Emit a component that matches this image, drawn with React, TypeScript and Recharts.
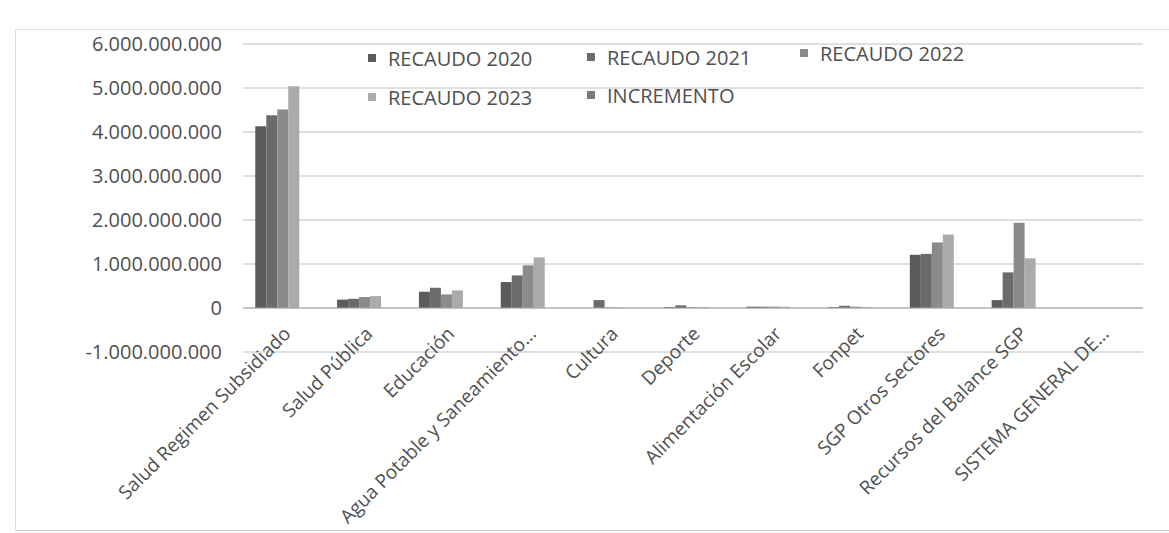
import React from 'react';
import { BarChart, Bar, XAxis, YAxis, CartesianGrid, ReferenceLine } from 'recharts';

const categories = [
  'Salud Regimen Subsidiado',
  'Salud Pública',
  'Educación',
  'Agua Potable y Saneamiento...',
  'Cultura',
  'Deporte',
  'Alimentación Escolar',
  'Fonpet',
  'SGP Otros Sectores',
  'Recursos del Balance SGP',
  'SISTEMA GENERAL DE...',
];

const recaudo2020 = [4130000000, 190000000, 370000000, 590000000, 0, 20000000, 30000000, 20000000, 1210000000, 180000000, 0];
const recaudo2021 = [4380000000, 210000000, 460000000, 740000000, 180000000, 60000000, 30000000, 50000000, 1230000000, 810000000, 0];
const recaudo2022 = [4510000000, 250000000, 310000000, 970000000, 10000000, 20000000, 30000000, 30000000, 1490000000, 1940000000, 0];
const recaudo2023 = [5040000000, 270000000, 400000000, 1150000000, 10000000, 20000000, 30000000, 20000000, 1670000000, 1130000000, 0];
const incremento = [0, 0, 0, 0, 0, 0, 0, 0, 0, 0, 0];

const yTicks = [-1000000000, 0, 1000000000, 2000000000, 3000000000, 4000000000, 5000000000, 6000000000];

const seriesNames = ['RECAUDO 2020', 'RECAUDO 2021', 'RECAUDO 2022', 'RECAUDO 2023', 'INCREMENTO'];
const seriesKeys = ['r2020', 'r2021', 'r2022', 'r2023', 'inc'];
const seriesColors = ['#5b5b5b', '#6b6b6b', '#8b8b8b', '#ababab', '#7a7a7a'];

const data = categories.map((name, i) => ({
  name,
  r2020: recaudo2020[i],
  r2021: recaudo2021[i],
  r2022: recaudo2022[i],
  r2023: recaudo2023[i],
  inc: incremento[i],
}));

const FONT = '"Open Sans", "Liberation Sans", sans-serif';
const TEXT = '#505050';

const fmt = (v: number) => {
  const neg = v < 0;
  const s = Math.abs(Math.round(v)).toString().replace(/\B(?=(\d{3})+(?!\d))/g, '.');
  return (neg ? '-' : '') + s;
};

const XTick = (props: any) => {
  const { x, y, payload } = props;
  const ax = x + 8;
  const ay = y - 19;
  return (
    <text
      x={ax}
      y={ay}
      textAnchor="end"
      transform={`rotate(-45, ${ax}, ${ay})`}
      fontFamily={FONT}
      fontSize={19}
      fill={TEXT}
    >
      {payload.value}
    </text>
  );
};

const legendPos = [
  { left: 368, top: 58 },
  { left: 587, top: 57 },
  { left: 800, top: 53 },
  { left: 368, top: 97 },
  { left: 587, top: 95 },
];

export default function App() {
  return (
    <div style={{ position: 'absolute', left: 0, top: 0, width: 1169, height: 533, background: '#fff', overflow: 'hidden' }}>
      <div
        style={{
          position: 'absolute',
          left: 15,
          top: 29,
          width: 1169,
          height: 500,
          borderLeft: '1px solid #dcdcdc',
          borderTop: '1px solid #e2e2e2',
          borderBottom: '1px solid #d0d0d0',
        }}
      />
      <div style={{ position: 'absolute', left: 0, top: 0 }}>
        <BarChart
          width={1169}
          height={533}
          data={data}
          margin={{ top: 44, right: 26, bottom: 0, left: 0 }}
          barCategoryGap="15%"
          barGap={0}
        >
          <CartesianGrid vertical={false} stroke="#bfbfbf" strokeWidth={1} />
          <XAxis
            dataKey="name"
            height={181}
            axisLine={false}
            tickLine={false}
            tickSize={0}
            interval={0}
            tick={<XTick />}
          />
          <YAxis
            width={243}
            domain={[-1000000000, 6000000000]}
            ticks={yTicks}
            tickFormatter={fmt}
            axisLine={false}
            tickLine={false}
            tickSize={0}
            tickMargin={21}
            tick={{ fontFamily: FONT, fontSize: 20, fill: TEXT }}
            interval={0}
          />
          <ReferenceLine y={0} stroke="#a8a8a8" strokeWidth={1} />
          {seriesKeys.map((k, i) => (
            <Bar key={k} dataKey={k} name={seriesNames[i]} fill={seriesColors[i]} isAnimationActive={false} />
          ))}
        </BarChart>
      </div>
      {seriesNames.map((n, i) => (
        <div
          key={n}
          style={{
            position: 'absolute',
            left: legendPos[i].left,
            top: legendPos[i].top - 14,
            height: 28,
            display: 'flex',
            alignItems: 'center',
            fontFamily: FONT,
            fontSize: 20,
            color: TEXT,
            whiteSpace: 'nowrap',
          }}
        >
          <span style={{ display: 'inline-block', width: 8, height: 8, background: seriesColors[i], marginRight: 12 }} />
          <span>{n}</span>
        </div>
      ))}
    </div>
  );
}
